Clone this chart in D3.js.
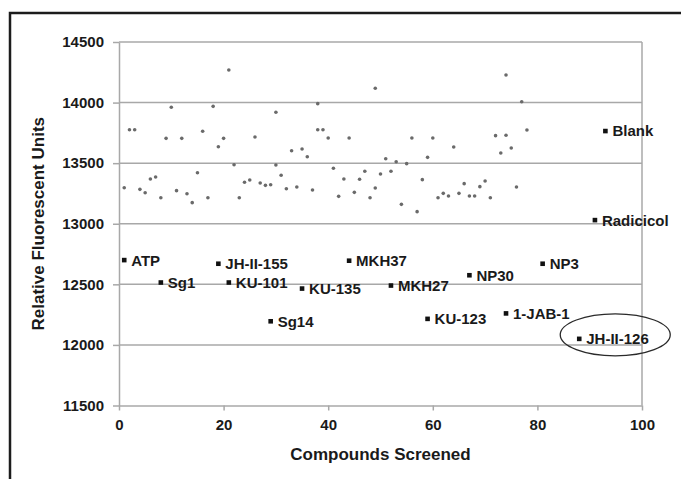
<!DOCTYPE html>
<html><head><meta charset="utf-8">
<script src="https://cdn.jsdelivr.net/npm/d3@7"></script>
<style>
html,body{margin:0;padding:0;background:#fff;}
svg{display:block;font-family:"Liberation Sans",Arial,sans-serif;}
</style></head>
<body><svg id="c" width="681" height="479"></svg>
<script>
// Screened compounds (gray dots)
const screenX = [1,2,3,4,5,6,7,8,9,10,11,12,13,14,15,16,17,18,19,20,21,22,23,24,25,26,27,28,29,30,30,31,32,33,34,35,36,37,38,38,39,40,41,42,43,44,45,46,47,48,49,49,50,51,52,53,54,55,56,57,58,59,60,61,62,63,64,65,66,67,68,69,70,71,72,73,74,74,75,76,77,78];
const screenY = [13297,13776,13776,13284,13256,13369,13386,13215,13705,13961,13273,13705,13248,13174,13421,13763,13215,13969,13636,13705,14269,13487,13215,13342,13361,13716,13336,13317,13322,13920,13485,13400,13289,13603,13303,13617,13553,13279,13991,13776,13776,13708,13458,13226,13369,13708,13259,13367,13433,13215,14118,13295,13411,13537,13433,13512,13160,13496,13708,13100,13364,13548,13708,13215,13251,13229,13633,13251,13331,13229,13229,13306,13353,13215,13727,13584,13730,14228,13625,13303,14007,13774];
// Labelled compounds (black squares)
const labelNames = ["ATP","Sg1","JH-II-155","KU-101","Sg14","KU-135","MKH37","MKH27","KU-123","NP30","1-JAB-1","NP3","Radicicol","JH-II-126","Blank"];
const labelX = [1,8,19,21,29,35,44,52,59,67,74,81,91,88,93];
const labelY = [12700,12515,12670,12515,12195,12465,12695,12490,12215,12575,12260,12670,13030,12050,13765];
const xTicks = [0,20,40,60,80,100];
const yTicks = [11500,12000,12500,13000,13500,14000,14500];
const highlighted = "JH-II-126";

const svg = d3.select("#c");
const x = d3.scaleLinear().domain([0,100]).range([119,642]);
const y = d3.scaleLinear().domain([11500,14500]).range([405.5,42]);
const grid = "#a8a8a8", ink = "#1a1a1a";

// outer frame
svg.append("rect").attr("x",10).attr("y",13).attr("width",720).attr("height",520)
  .attr("fill","none").attr("stroke","#1c1c1c").attr("stroke-width",2.5);

// gridlines
svg.append("g").selectAll("line").data(yTicks.filter(t=>t>11500)).join("line")
  .attr("x1",x(0)).attr("x2",x(100)).attr("y1",d=>y(d)).attr("y2",d=>y(d))
  .attr("stroke",grid).attr("stroke-width",1.5);
// right border of plot
svg.append("line").attr("x1",x(100)).attr("x2",x(100)).attr("y1",y(14500)).attr("y2",y(11500))
  .attr("stroke",grid).attr("stroke-width",1.5);

// axes
const yAxis = svg.append("g").attr("transform",`translate(${x(0)},0)`)
  .call(d3.axisLeft(y).tickValues(yTicks).tickSize(6).tickSizeOuter(0).tickPadding(9).tickFormat(d3.format("d")));
const xAxis = svg.append("g").attr("transform",`translate(0,${y(11500)})`)
  .call(d3.axisBottom(x).tickValues(xTicks).tickSize(5).tickSizeOuter(0).tickPadding(9).tickFormat(d3.format("d")));
[yAxis,xAxis].forEach(a=>{
  a.select(".domain").attr("stroke",grid).attr("stroke-width",1.5);
  a.selectAll(".tick line").attr("stroke",grid).attr("stroke-width",1.5);
  a.selectAll(".tick text").attr("fill",ink).style("font-size","15px").style("font-weight","bold")
   .style("font-family","'Liberation Sans',Arial,sans-serif");
});

// axis titles
svg.append("text").attr("x",(x(0)+x(100))/2).attr("y",460).attr("text-anchor","middle")
  .attr("fill",ink).style("font-size","17px").style("font-weight","bold").text("Compounds Screened");
svg.append("text").attr("transform",`translate(44,${(y(11500)+y(14500))/2}) rotate(-90)`)
  .attr("text-anchor","middle").attr("fill",ink).style("font-size","17px").style("font-weight","bold")
  .text("Relative Fluorescent Units");

// gray dots
svg.append("g").selectAll("circle").data(screenX.map((v,i)=>[v,screenY[i]])).join("circle")
  .attr("cx",d=>x(d[0])).attr("cy",d=>y(d[1])).attr("r",1.8).attr("fill","#6a6a6a");

// labelled squares
const lab = labelNames.map((n,i)=>({n, x:labelX[i], y:labelY[i]}));
const g = svg.append("g");
g.selectAll("rect").data(lab).join("rect")
  .attr("x",d=>x(d.x)-2.3).attr("y",d=>y(d.y)-2.3).attr("width",4.6).attr("height",4.6).attr("fill","#111");
g.selectAll("text").data(lab).join("text")
  .attr("x",d=>x(d.x)+7).attr("y",d=>y(d.y)).attr("dy","0.36em")
  .attr("fill",ink).style("font-size","15px").style("font-weight","bold").text(d=>d.n);

// ellipse around highlighted compound
const h = lab.find(d=>d.n===highlighted);
svg.append("ellipse").attr("cx",x(h.x)+36).attr("cy",y(h.y)-4).attr("rx",55).attr("ry",21)
  .attr("fill","none").attr("stroke","#2a2a2a").attr("stroke-width",1.3);
</script></body></html>
